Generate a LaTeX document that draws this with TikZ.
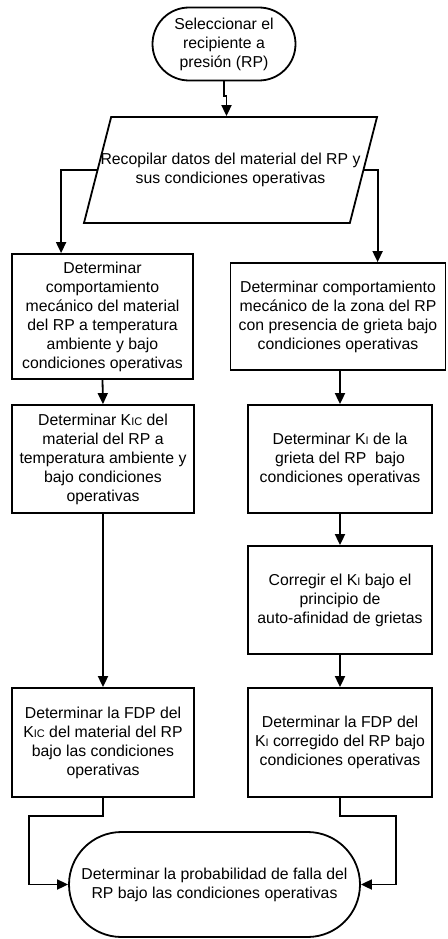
\documentclass[tikz,border=0pt]{standalone}
\usepackage{fontspec}
\setmainfont{Liberation Sans}
\usetikzlibrary{shapes.geometric,shapes.misc,arrows.meta}

\newcommand{\Kic}{K{\fontsize{11}{11}\selectfont IC}}
\newcommand{\Ki}{K{\fontsize{11}{11}\selectfont I}}

\tikzset{
  texto/.style={font=\fontsize{15.8}{19}\selectfont, align=center, inner sep=2pt},
  terminal/.style={texto, draw, line width=1.8pt, rounded rectangle},
  proceso/.style={texto, draw, line width=1.8pt, rectangle},
  datos/.style={draw, line width=1.8pt, trapezium, trapezium left angle=83.5,
    trapezium right angle=96.5, trapezium stretches, inner sep=4pt},
  arr/.style={line width=1.8pt, -{Triangle[length=11pt,width=10pt]}}
}

\begin{document}
\begin{tikzpicture}[x=1pt,y=-1pt]
    \useasboundingbox (0,0) rectangle (447,939);

    % Inicio
    \node[terminal, minimum width=147pt, minimum height=73pt] (inicio) at (224,44)
        {Seleccionar el\\recipiente a\\presión (RP)};

    % Datos de entrada
    \node[datos, minimum width=293pt, minimum height=106pt] (datos) at (230.5,170) {};
    \node[texto] (datostxt) at (datos.center)
        {Recopilar datos del material del RP y\\sus condiciones operativas};

    % Rama izquierda (material)
    \node[proceso, minimum width=181pt, minimum height=125pt] (compmat) at (102.5,316.5)
        {Determinar\\comportamiento\\mecánico del material\\del RP a temperatura\\ambiente y bajo\\condiciones operativas};
    \node[proceso, minimum width=182pt, minimum height=108pt] (kic) at (103,459)
        {Determinar \Kic{} del\\material del RP a\\temperatura ambiente y\\bajo condiciones\\operativas};
    \node[proceso, minimum width=182pt, minimum height=109pt] (fdpkic) at (103,742.5)
        {Determinar la FDP del\\\Kic{} del material del RP\\bajo las condiciones\\operativas};

    % Rama derecha (grieta)
    \node[proceso, minimum width=215pt, minimum height=107pt] (compgri) at (338,316.5)
        {Determinar comportamiento\\mecánico de la zona del RP\\con presencia de grieta bajo\\condiciones operativas};
    \node[proceso, minimum width=184pt, minimum height=108pt] (ki) at (340,459)
        {Determinar \Ki{} de la\\grieta del RP\ \ bajo\\condiciones operativas};
    \node[proceso, minimum width=184pt, minimum height=108pt] (corr) at (340,600)
        {Corregir el \Ki{} bajo el\\principio de\\auto-afinidad de grietas};
    \node[proceso, minimum width=184pt, minimum height=109pt] (fdpki) at (340,742.5)
        {Determinar la FDP del\\\Ki{} corregido del RP bajo\\condiciones operativas};

    % Fin
    \node[terminal, minimum width=295pt, minimum height=105pt] (fin) at (214.5,884.5)
        {Determinar la probabilidad de falla del\\RP bajo las condiciones operativas};

    % Conectores
    \draw[arr] (inicio.south) -- ++(0,15) -| ([xshift=-4pt]datos.north);
    \draw[arr] (datos.west) -| ([xshift=50pt]compmat.north west);
    \draw[arr] (datos.east) -| ([xshift=148pt]compgri.north west);
    \draw[arr] (compmat.south) -- (kic.north);
    \draw[arr] (kic.south) -- (fdpkic.north);
    \draw[arr] (ki.north |- compgri.south) -- (ki.north);
    \draw[arr] (ki.south) -- (corr.north);
    \draw[arr] (corr.south) -- (fdpki.north);
    \draw[arr] (fdpkic.south) -- ++(0,18) -- ++(-74,0) |- (fin.west);
    \draw[arr] (fdpki.south) -- ++(0,18) -- ++(56,0) |- (fin.east);
\end{tikzpicture}
\end{document}
